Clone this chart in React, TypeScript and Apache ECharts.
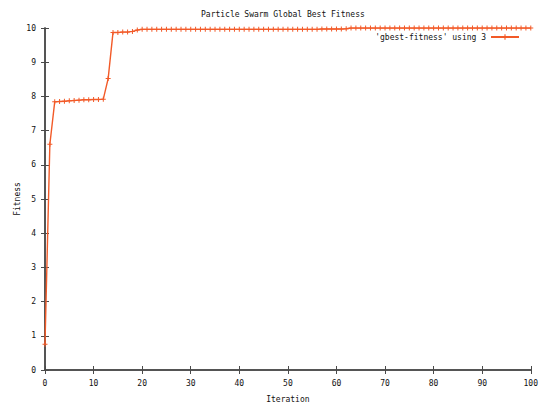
import React, { useEffect, useRef } from "react";
import * as echarts from "echarts";

const titleText = "Particle Swarm Global Best Fitness";
const xAxisName = "Iteration";
const yAxisName = "Fitness";
const seriesName = "'gbest-fitness' using 3";

// gbest fitness per iteration (iteration 0..100)
const fitness: number[] = [
  0.75, 6.6, 7.84, 7.85, 7.86, 7.87, 7.88, 7.89, 7.9, 7.9,
  7.91, 7.91, 7.92, 8.52, 9.87, 9.87, 9.88, 9.88, 9.9, 9.94,
  9.96, 9.96, 9.96, 9.96, 9.96, 9.96, 9.96, 9.96, 9.96, 9.96,
  9.96, 9.96, 9.96, 9.96, 9.96, 9.96, 9.96, 9.96, 9.96, 9.96,
  9.96, 9.96, 9.96, 9.96, 9.96, 9.96, 9.96, 9.96, 9.96, 9.96,
  9.96, 9.96, 9.96, 9.96, 9.96, 9.96, 9.96, 9.97, 9.97, 9.97,
  9.97, 9.97, 9.98, 10, 10, 10, 10, 10, 10, 10,
  10, 10, 10, 10, 10, 10, 10, 10, 10, 10,
  10, 10, 10, 10, 10, 10, 10, 10, 10, 10,
  10, 10, 10, 10, 10, 10, 10, 10, 10, 10,
  10,
];

const xMin = 0;
const xMax = 100;
const xStep = 10;
const yMin = 0;
const yMax = 10;
const yStep = 1;

const FONT = "DejaVu Sans Mono";
const LINE_COLOR = "#f25a28";
const AXIS_COLOR = "#4a4a4a";
const PLUS = "path://M4,0H6V4H10V6H6V10H4V6H0V4H4Z";

export default function App() {
  const ref = useRef<HTMLDivElement>(null);
  useEffect(() => {
    if (!ref.current) return;
    const chart = echarts.init(ref.current, null, { renderer: "svg" });
    const data = fitness.map((v, i) => [i, v]);
    const axisCommon = {
      axisLine: { show: true, lineStyle: { color: AXIS_COLOR, width: 1.5 } },
      axisTick: { show: true, inside: true, length: 4, lineStyle: { color: AXIS_COLOR } },
      splitLine: { show: false },
    };
    chart.setOption({
      animation: false,
      backgroundColor: "#ffffff",
      title: {
        text: titleText,
        left: 196,
        top: 5,
        textStyle: { fontFamily: FONT, fontSize: 8, fontWeight: "normal", color: "#111" },
      },
      legend: {
        right: 16,
        top: 28,
        align: "right",
        itemWidth: 28,
        itemHeight: 7,
        textStyle: { fontFamily: FONT, fontSize: 8, color: "#111" },
        data: [{ name: seriesName }],
      },
      grid: { left: 45, right: 7, top: 28, bottom: 33, containLabel: false },
      xAxis: [
        {
          type: "value",
          min: xMin,
          max: xMax,
          interval: xStep,
          name: xAxisName,
          nameLocation: "middle",
          nameGap: 25,
          nameTextStyle: { fontFamily: FONT, fontSize: 8, color: "#111" },
          axisLabel: { fontFamily: FONT, fontSize: 8, color: "#111", margin: 9 },
          ...axisCommon,
        },
        {
          type: "value",
          position: "top",
          min: xMin,
          max: xMax,
          interval: xStep,
          axisLabel: { show: false },
          ...axisCommon,
        },
      ],
      yAxis: [
        {
          type: "value",
          min: yMin,
          max: yMax,
          interval: yStep,
          name: yAxisName,
          nameLocation: "middle",
          nameGap: 24,
          nameRotate: 90,
          nameMoveOverlap: false,
          nameTextStyle: { fontFamily: FONT, fontSize: 8, color: "#111" },
          axisLabel: { fontFamily: FONT, fontSize: 8, color: "#111", margin: 9 },
          ...axisCommon,
        },
        {
          type: "value",
          position: "right",
          min: yMin,
          max: yMax,
          interval: yStep,
          axisLabel: { show: false },
          ...axisCommon,
        },
      ],
      series: [
        {
          name: seriesName,
          type: "line",
          data,
          xAxisIndex: 0,
          yAxisIndex: 0,
          symbol: PLUS,
          symbolSize: 5,
          showSymbol: true,
          itemStyle: { color: LINE_COLOR },
          lineStyle: { color: LINE_COLOR, width: 1.4 },
        },
      ],
    });
    return () => chart.dispose();
  }, []);
  return <div ref={ref} style={{ width: 541, height: 408, position: "absolute", left: 0, top: 0 }} />;
}
